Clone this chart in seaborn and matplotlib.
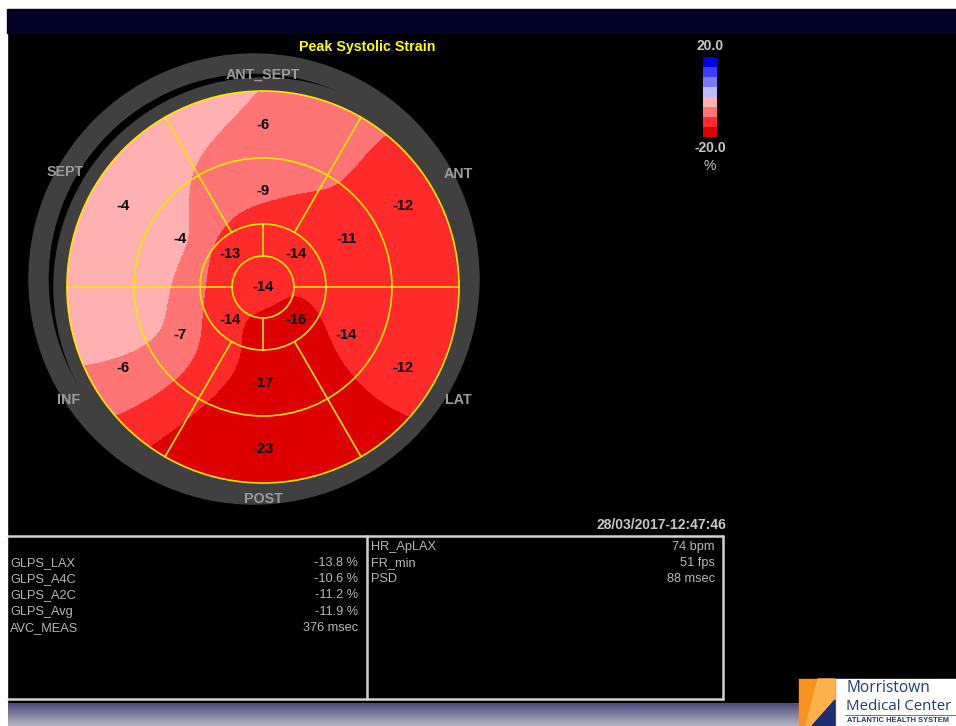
import numpy as np
import matplotlib
matplotlib.use("Agg")
import matplotlib.pyplot as plt
from matplotlib.colors import ListedColormap, BoundaryNorm, LinearSegmentedColormap
from matplotlib.patches import Circle, Wedge, Rectangle, Polygon
import seaborn as sns

# 17 segment peak systolic strain values (%), angle 0 = right, counter clockwise
basal_angles = [90, 30, -30, -90, -150, 150]
basal_values = [-6, -12, -12, -23, -6, -4]
mid_angles = [90, 30, -30, -90, -150, 150]
mid_values = [-9, -11, -14, -17, -7, -4]
apical_angles = [45, 135, 225, 315]
apical_values = [-14, -13, -14, -16]
apex_value = -14

wall_names = ["ANT_SEPT", "ANT", "LAT", "POST", "INF", "SEPT"]
wall_angles = [90, 30, -30, -90, -150, 150]

glps_labels = ["GLPS_LAX", "GLPS_A4C", "GLPS_A2C", "GLPS_Avg", "AVC_MEAS"]
glps_values = ["-13.8 %", "-10.6 %", "-11.2 %", "-11.9 %", "376 msec"]
hr_labels = ["HR_ApLAX", "FR_min", "PSD"]
hr_values = ["74 bpm", "51 fps", "88 msec"]

cbar_bounds = [-20, -15, -10, -5, 0, 5, 10, 15, 20]
strain_colors = ["#dc0000", "#ff2a2a", "#ff7474", "#ffb0b0",
                 "#bcbcff", "#7a7aff", "#3c3cff", "#0000e6"]
timestamp = "28/03/2017-12:47:46"

sns.set_theme(style="dark", rc={"axes.facecolor": "black", "figure.facecolor": "black"})
plt.rcParams["font.family"] = ["Liberation Sans", "DejaVu Sans"]

cmap = ListedColormap(strain_colors)
cmap.set_under(strain_colors[0])
cmap.set_over(strain_colors[-1])
norm = BoundaryNorm(cbar_bounds, cmap.N)

fig = plt.figure(figsize=(9.56, 7.26), dpi=100)
ax = fig.add_axes([0, 0, 1, 1])
ax.set_xlim(0, 956)
ax.set_ylim(726, 0)
ax.axis("off")

# frame of the screen capture
ax.add_patch(Rectangle((0, 0), 956, 726, color="black", zorder=0))
ax.add_patch(Rectangle((0, 0), 956, 9, color="white", zorder=1))
ax.add_patch(Rectangle((0, 0), 7, 726, color="white", zorder=1))
ax.add_patch(Rectangle((7, 9), 949, 24, color="#020226", zorder=1))

cx, cy = 263, 287
rings = [196, 129, 63, 31]


def to_xy(r, ang):
    a = np.deg2rad(ang)
    return cx + r * np.cos(a), cy - r * np.sin(a)


# grey outline rings
ax.add_patch(Wedge((254, 279), 225, 0, 360, width=19, color="#404040", zorder=2))
ax.add_patch(Circle((cx, cy), 209, color="#404040", zorder=2))

# smooth strain map through the segment values (thin plate spline)
seg_r = [162] * 6 + [96] * 6 + [47] * 4 + [0]
seg_a = basal_angles + mid_angles + apical_angles + [0]
seg_v = np.array(basal_values + mid_values + apical_values + [apex_value], float)
px, py = to_xy(np.array(seg_r, float), np.array(seg_a, float))
P = np.column_stack([(px - cx) / 196, (py - cy) / 196])


def tps(d):
    with np.errstate(divide="ignore", invalid="ignore"):
        out = d ** 2 * np.log(d)
    return np.nan_to_num(out)


n = len(seg_v)
K = tps(np.hypot(P[:, None, 0] - P[None, :, 0], P[:, None, 1] - P[None, :, 1]))
Q = np.column_stack([np.ones(n), P])
A = np.block([[K, Q], [Q.T, np.zeros((3, 3))]])
coef = np.linalg.solve(A, np.concatenate([seg_v, np.zeros(3)]))

gx = np.linspace(cx - 200, cx + 200, 401)
gy = np.linspace(cy - 200, cy + 200, 401)
X, Y = np.meshgrid(gx, gy)
U, V = (X - cx) / 196, (Y - cy) / 196
D = np.hypot(U[..., None] - P[:, 0], V[..., None] - P[:, 1])
Z = (tps(D) * coef[:n]).sum(-1) + coef[n] + coef[n + 1] * U + coef[n + 2] * V
Z = np.clip(Z, seg_v.min(), seg_v.max())

clip = Circle((cx, cy), rings[0], transform=ax.transData)
cs = ax.contourf(X, Y, Z, levels=cbar_bounds, cmap=cmap, norm=norm, extend="both", zorder=3)
cs.set_clip_path(clip)

# yellow grid
yel = "#ffe600"
for r in rings:
    ax.add_patch(Circle((cx, cy), r, fill=False, ec=yel, lw=1.2, zorder=4))
for a in [0, 60, 120, 180, 240, 300]:
    x0, y0 = to_xy(rings[2], a)
    x1, y1 = to_xy(rings[0], a)
    ax.plot([x0, x1], [y0, y1], color=yel, lw=1.2, zorder=4)
for a in [0, 90, 180, 270]:
    x0, y0 = to_xy(rings[3], a)
    x1, y1 = to_xy(rings[2], a)
    ax.plot([x0, x1], [y0, y1], color=yel, lw=1.2, zorder=4)

# segment labels
for r, a, v in zip(seg_r, seg_a, seg_v):
    x, y = to_xy(r, a)
    ax.text(x, y, f"{int(v)}", ha="center", va="center", fontsize=10.5,
            fontweight="bold", color="black", zorder=5)

wall_r = [212, 225, 225, 212, 225, 229]
for name, a, r in zip(wall_names, wall_angles, wall_r):
    x, y = to_xy(r, a)
    ax.text(x, y, name, ha="center", va="center", fontsize=10.3,
            fontweight="bold", color="#9c9c9c", zorder=5)

ax.text(367, 47, "Peak Systolic Strain", ha="center", va="center", fontsize=10.3,
        fontweight="bold", color="#ffff00", zorder=5)

# colour scale
cax = fig.add_axes([703 / 956, 1 - 137 / 726, 14 / 956, 80 / 726])
mids = np.array([(cbar_bounds[i] + cbar_bounds[i + 1]) / 2 for i in range(8)])[::-1]
sns.heatmap(mids.reshape(-1, 1), ax=cax, cmap=cmap, vmin=-20, vmax=20,
            cbar=False, xticklabels=False, yticklabels=False)
ax.text(710, 46, "20.0", ha="center", va="center", fontsize=10, fontweight="bold", color="#c8c8c8")
ax.text(710, 148, "-20.0", ha="center", va="center", fontsize=10, fontweight="bold", color="#c8c8c8")
ax.text(710, 166, "%", ha="center", va="center", fontsize=10, color="#c8c8c8")

# measurement table
ax.text(726, 525, timestamp, ha="right", va="center", fontsize=10,
        fontweight="bold", color="#c8c8c8")
line_c = "#d2d2d2"
ax.plot([8, 723], [536, 536], color=line_c, lw=1.8)
ax.plot([8, 723], [698.5, 698.5], color=line_c, lw=1.8)
ax.plot([367, 367], [536, 698.5], color=line_c, lw=1.8)
ax.plot([723, 723], [536, 698.5], color=line_c, lw=1.8)
txt_c = "#b8b8b8"
for i, (lab, val) in enumerate(zip(glps_labels, glps_values)):
    y = 563 + 16.2 * i
    ax.text(10, y, lab, ha="left", va="center", fontsize=9.2, color=txt_c)
    ax.text(358, y, val, ha="right", va="center", fontsize=9.2, color=txt_c)
for i, (lab, val) in enumerate(zip(hr_labels, hr_values)):
    y = 547 + 16.2 * i
    ax.text(371, y, lab, ha="left", va="center", fontsize=9.2, color=txt_c)
    ax.text(715, y, val, ha="right", va="center", fontsize=9.2, color=txt_c)

# bottom gradient band
band = LinearSegmentedColormap.from_list("band", ["#4c4c7a", "#b4b4c4"])
ax.imshow(np.linspace(0, 1, 50).reshape(-1, 1), cmap=band, aspect="auto",
          extent=[8, 800, 726, 703], zorder=1)

# hospital logo
ax.add_patch(Rectangle((835, 679), 121, 47, color="white", zorder=6))
ax.add_patch(Rectangle((799, 679), 36, 47, color="#f7921e", zorder=6))
ax.add_patch(Polygon([[818, 679], [835, 679], [835, 700], [812, 726], [806, 726]],
                     closed=True, color="#fbb24a", zorder=6))
ax.add_patch(Polygon([[812, 726], [835, 700], [835, 726]], closed=True,
                     color="#1b2f6e", zorder=7))
ax.text(847, 688, "Morristown", ha="left", va="center", fontsize=11.2,
        color="#1d3a7c", family=["Open Sans", "DejaVu Sans"], zorder=8)
ax.text(846, 706, "Medical Center", ha="left", va="center", fontsize=10.8,
        color="#1d3a7c", family=["Open Sans", "DejaVu Sans"], zorder=8)
ax.text(847, 721, "ATLANTIC HEALTH SYSTEM", ha="left", va="center", fontsize=5.4,
        fontweight="bold", color="#1d3a7c", zorder=8)
ax.plot([845, 956], [714.5, 714.5], color="#1d3a7c", lw=0.5, zorder=8)

fig.savefig("out.png", dpi=100, facecolor="black")
